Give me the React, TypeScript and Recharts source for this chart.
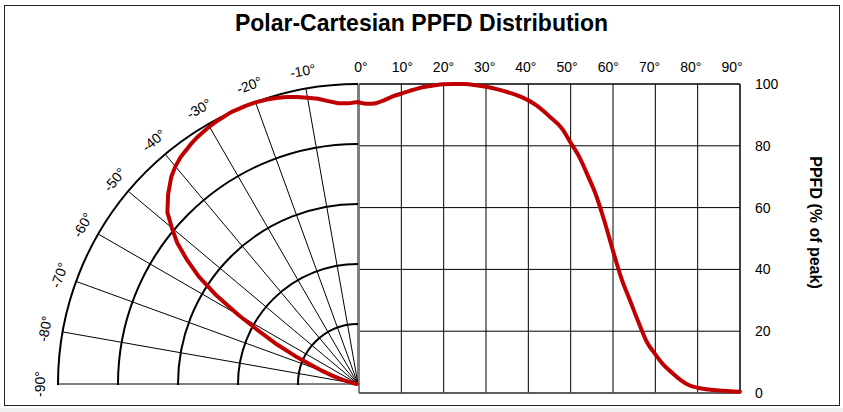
import React from 'react';
import {
  LineChart, Line, XAxis, YAxis, CartesianGrid, ReferenceLine,
  RadarChart, Radar, PolarGrid, PolarAngleAxis, PolarRadiusAxis,
} from 'recharts';

// PPFD (% of peak) vs. angle from vertical
const angles = [0, 2, 4, 6, 8, 10, 12, 14, 16, 18, 20, 22, 25, 28, 30, 33, 35, 38, 40, 42, 45, 48, 50, 52, 54, 56, 58, 60, 62, 64, 66, 68, 70, 72, 74, 76, 78, 80, 82, 85, 90];
const ppfd = [94, 93.6, 93.8, 94.8, 96, 96.9, 97.8, 98.6, 99.2, 99.6, 99.9, 100, 100, 99.5, 99.1, 98.2, 97.4, 96, 94.7, 93, 89.5, 85.5, 81, 76.5, 70.5, 64, 55.5, 46, 37, 30, 23, 16.5, 12.5, 9, 6.5, 4.2, 2.5, 1.7, 1.2, 0.8, 0.4];

const angleTicks = [0, 10, 20, 30, 40, 50, 60, 70, 80, 90];
const valueTicks = [0, 20, 40, 60, 80, 100];

const FONT = '"Liberation Sans", Arial, Helvetica, sans-serif';
const RED = '#c00000';

const cartData = angles.map((a, i) => ({ angle: a, ppfd: ppfd[i] }));
// same profile mirrored to the left half; walked out and back so the
// radar polygon closes on itself instead of cutting across the plot
const polarOut = angles.map((a, i) => ({ angle: -a, ppfd: ppfd[i] }));
const polarData = [...polarOut, ...polarOut.slice().reverse()];

const polarProps = {
  cx: 358,
  cy: 384,
  innerRadius: 0,
  outerRadius: 300,
  startAngle: 180,
  endAngle: 90,
  margin: { top: 0, right: 0, bottom: 0, left: 0 },
};

function NoTick() {
  return <g />;
}

function PolarTick(props: any) {
  const { x, y, payload } = props;
  if (payload.value === 0) return <g />;
  return (
    <text
      x={x}
      y={y}
      transform={`rotate(${payload.value}, ${x}, ${y})`}
      textAnchor="middle"
      dominantBaseline="central"
      fontSize={14}
      fontFamily={FONT}
      fill="#000"
    >
      {`${payload.value}°`}
    </text>
  );
}

export default function App() {
  const abs = { position: 'absolute' as const, left: 0, top: 0 };
  return (
    <div style={{ ...abs, width: 843, height: 412, background: '#fff', fontFamily: FONT }}>
      {/* frame */}
      <div style={{ position: 'absolute', left: 4, top: 5, width: 836, height: 401, boxSizing: 'border-box', border: '1px solid #222' }} />
      <div style={{ position: 'absolute', left: 0, top: 408, width: 843, height: 4, background: '#efefef' }} />

      <div style={{ position: 'absolute', left: 0, top: 10, width: 843, textAlign: 'center', fontSize: 23, fontWeight: 'bold', color: '#000' }}>
        Polar-Cartesian PPFD Distribution
      </div>

      {/* polar grid, clipped to the upper-left quadrant */}
      <div style={{ ...abs, width: 358, height: 385, overflow: 'hidden' }}>
        <RadarChart width={358} height={385} data={polarData} {...polarProps}>
          <PolarAngleAxis dataKey="angle" type="number" domain={[-90, 0]} tickCount={10} tick={<NoTick />} axisLine={false} tickLine={false} />
          <PolarRadiusAxis domain={[0, 100]} tickCount={6} tick={<NoTick />} axisLine={false} />
          <PolarGrid gridType="circle" radialLines={false} stroke="#000" strokeWidth={2} />
          <PolarGrid gridType="circle" polarRadius={[]} stroke="#000" strokeWidth={1} />
          <Radar dataKey="ppfd" stroke="none" fill="none" isAnimationActive={false} />
        </RadarChart>
      </div>

      {/* cartesian half */}
      <div style={abs}>
        <LineChart width={843} height={412} data={cartData} margin={{ top: 54, right: 43, bottom: 19, left: 359 }}>
          <XAxis xAxisId={0} dataKey="angle" type="number" domain={[0, 90]} ticks={angleTicks} hide />
          <XAxis
            xAxisId="lab"
            dataKey="angle"
            type="number"
            orientation="top"
            height={30}
            domain={[0, 90]}
            ticks={angleTicks}
            padding={{ left: 2, right: 8 }}
            tickFormatter={(v: number) => `${v}°`}
            tickLine={false}
            axisLine={false}
            tickMargin={6}
            tick={{ fill: '#000', fontSize: 14, fontFamily: FONT }}
          />
          <YAxis
            orientation="right"
            width={60}
            domain={[0, 100]}
            ticks={valueTicks}
            tickLine={false}
            axisLine={false}
            tickMargin={9}
            tick={{ fill: '#000', fontSize: 14, fontFamily: FONT }}
            label={{ value: 'PPFD (% of peak)', angle: 90, position: 'center', dx: 46, dy: -16, fill: '#000', fontSize: 16, fontWeight: 'bold', fontFamily: FONT }}
          />
          <CartesianGrid stroke="#000" strokeWidth={1} />
          <ReferenceLine x={90} stroke="#000" strokeWidth={1} />
          <ReferenceLine y={100} stroke="#000" strokeWidth={1} />
          <ReferenceLine x={0} stroke="#808080" strokeWidth={1.5} />
          <ReferenceLine y={0} stroke="#555" strokeWidth={1.5} />
          <Line type="monotone" dataKey="ppfd" stroke={RED} strokeWidth={4} strokeLinecap="round" dot={false} isAnimationActive={false} />
        </LineChart>
      </div>

      {/* polar labels and curve */}
      <div style={abs}>
        <RadarChart width={843} height={412} data={polarData} {...polarProps}>
          <PolarAngleAxis dataKey="angle" type="number" domain={[-90, 0]} tickCount={10} tick={<PolarTick />} tickSize={18} axisLine={false} tickLine={false} />
          <PolarRadiusAxis domain={[0, 100]} tickCount={6} tick={false} axisLine={false} />
          <Radar dataKey="ppfd" stroke={RED} strokeWidth={4} strokeLinecap="round" strokeLinejoin="round" fill="none" fillOpacity={0} dot={false} isAnimationActive={false} />
        </RadarChart>
      </div>
    </div>
  );
}
